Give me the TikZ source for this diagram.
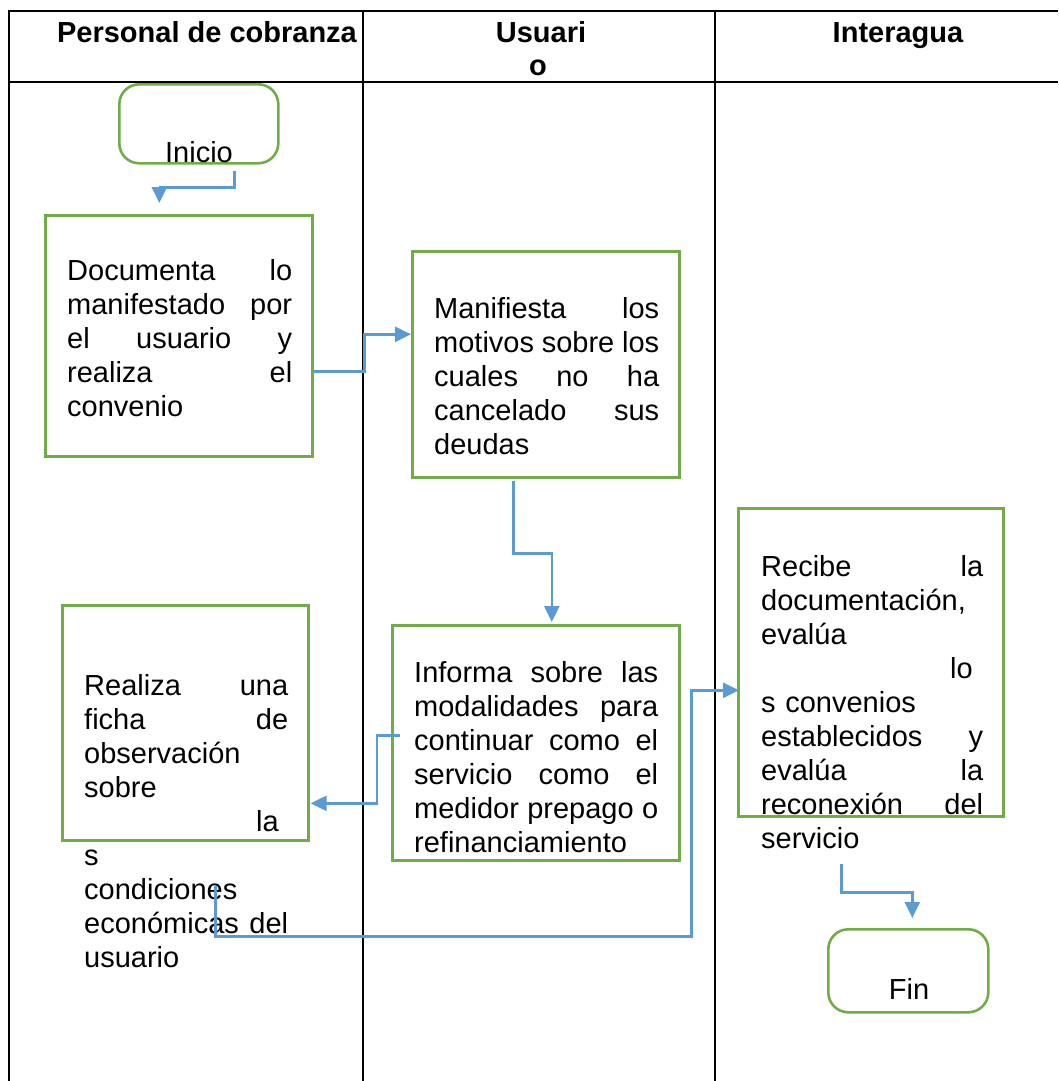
\documentclass[tikz,border=0pt]{standalone}
\usepackage{fontspec}
\setmainfont{Liberation Sans}
\usetikzlibrary{arrows.meta,calc}
\definecolor{gr}{HTML}{70AD47}
\definecolor{bl}{HTML}{5B9BD5}
\newcommand\jl[2]{\makebox[#1][l]{#2}}
\newcommand\fl{\rule{0pt}{22pt}}
\newcommand\hf{\hfill}
\begin{document}
\begin{tikzpicture}[x=1pt,y=-1pt,
  tbl/.style={draw=black,line width=2.2pt},
  gbox/.style={draw=gr,line width=2.6pt,inner sep=0pt,anchor=north west},
  term/.style={gbox,rounded corners=20pt},
  arr/.style={draw=bl,line width=2.4pt,-{Triangle[length=16pt,width=15pt]}},
  txt/.style={inner sep=0pt,anchor=north west,align=left,font=\fontsize{29}{34}\selectfont},
  lbl/.style={inner sep=0pt,anchor=base,font=\fontsize{29}{34}\selectfont},
  hd/.style={inner sep=0pt,anchor=base,font=\bfseries\fontsize{29}{32}\selectfont}]
\useasboundingbox (0,0) rectangle (1058,1081);
\fill[white] (0,0) rectangle (1058,1081);
% table
\draw[tbl] (9,1081) -- (9,11) -- (1058,11);
\draw[tbl] (9,82) -- (1058,82);
\draw[tbl] (363,11) -- (363,1081);
\draw[tbl] (715,11) -- (715,1081);
% headers
\node[hd] (h1) at (207,43) {Personal de cobranza};
\node[hd] (h2a) at (541,43) {Usuari};
\node[hd] (h2b) at (538,75) {o};
\node[hd] (h3) at (898,43) {Interagua};
% shapes
\node[term,minimum width=159pt,minimum height=79pt] (inicio) at (118,83) {};
\node[lbl] (inicioT) at (199,162) {Inicio};
\node[gbox,minimum width=267pt,minimum height=241pt] (doc) at (44,214) {};
\node[gbox,minimum width=267pt,minimum height=226pt] (man) at (411,250) {};
\node[gbox,minimum width=287pt,minimum height=235pt] (inf) at (391,624) {};
\node[gbox,minimum width=246pt,minimum height=235pt] (rea) at (61,604) {};
\node[gbox,minimum width=265pt,minimum height=308pt] (rec) at (737,507) {};
\node[term,minimum width=160pt,minimum height=83pt] (fin) at (827,928) {};
\node[lbl] (finT) at (909,999) {Fin};
% texts
\node[txt,text width=225pt] (docT) at (67,258) {\fl\jl{225pt}{Documenta\hf lo}\\
\jl{225pt}{manifestado\hf por}\\ \jl{225pt}{el\hf usuario\hf y}\\ \jl{225pt}{realiza\hf el}\\ convenio};
\node[txt,text width=225pt] (manT) at (434,296) {\fl\jl{225pt}{Manifiesta\hf los}\\
\jl{225pt}{motivos\hf sobre\hf los}\\ \jl{225pt}{cuales\hf no\hf ha}\\ \jl{225pt}{cancelado\hf sus}\\ deudas};
\node[txt,text width=244pt] (infT) at (414,660) {\fl\jl{244pt}{Informa\hf sobre\hf las}\\
\jl{244pt}{modalidades\hf para}\\ \jl{244pt}{continuar\hf como\hf el}\\ \jl{244pt}{servicio\hf como\hf el}\\
\jl{244pt}{medidor\hf prepago\hf o}\\ refinanciamiento};
\node[txt,text width=204pt] (reaT) at (84,673) {\fl\jl{204pt}{Realiza\hf una}\\
\jl{204pt}{ficha\hf de}\\ observación\\ sobre\\ \hspace*{172pt}la\\ s\\ condiciones\\
\jl{204pt}{económicas\hf del}\\ usuario};
\node[txt,text width=222pt] (recT) at (761,554) {\fl\jl{222pt}{Recibe\hf la}\\
documentación,\\ evalúa\\ \hspace*{189pt}lo\\ s convenios\\ \jl{222pt}{establecidos\hf y}\\
\jl{222pt}{evalúa\hf la}\\ \jl{222pt}{reconexión\hf del}\\ servicio};
% connectors
\draw[arr] ($(inicio.south)+(35.5,6)$) -- ++(0,17) -| ($(doc.north)+(-19.5,-11)$);
\draw[arr] ($(doc.south east)+(0,-86)$) -- ++(51,0) |- ($(man.west)+(0,-30)$);
\draw[arr] ($(man.south)+(-32.5,2)$) -- ++(0,73) -| ($(inf.north)+(16,-2)$);
\draw[arr] ($(inf.west)+(9,-7.5)$) -- ++(-23,0) |- ($(rea.east)+(1,80.5)$);
\draw[arr] ($(rea.south)+(30,44)$) -- ++(0,51) -- ++(476,0) |- ($(rec.west)+(2,28)$);
\draw[arr] ($(rec.south)+(-29.5,46)$) -- ++(0,29) -| ($(fin.north)+(4,-10)$);
\end{tikzpicture}
\end{document}
